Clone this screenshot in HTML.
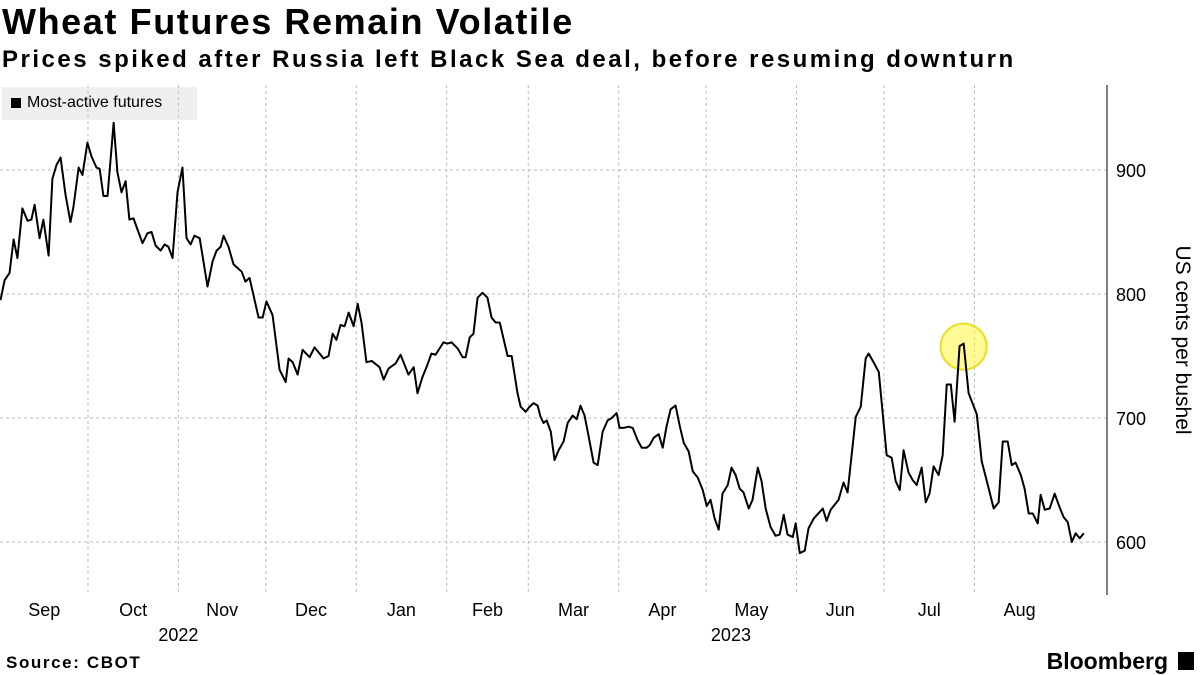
<!DOCTYPE html>
<html><head><meta charset="utf-8"><style>
body{margin:0;width:1200px;height:675px;background:#fff;font-family:"Liberation Sans",sans-serif;overflow:hidden;position:relative}
.t{position:absolute;left:2px;top:1px;font-weight:bold;font-size:36px;letter-spacing:1.6px;color:#000}
.s{position:absolute;left:2px;top:46px;font-weight:bold;font-size:24px;letter-spacing:2.5px;color:#000}
.src{position:absolute;left:6px;top:653px;font-weight:bold;font-size:17px;letter-spacing:1.6px}
.bb{position:absolute;right:32px;top:648px;font-weight:bold;font-size:23px}
.lg{position:absolute;left:2px;top:87px;width:195px;height:33px;background:#efefef;font-size:16px}
</style></head><body>
<div class="t">Wheat Futures Remain Volatile</div>
<div class="s">Prices spiked after Russia left Black Sea deal, before resuming downturn</div>
<div class="lg"><span style="position:absolute;left:9px;top:11px;width:10px;height:10px;background:#000"></span><span style="position:absolute;left:25px;top:7px">Most-active futures</span></div>
<svg id="c" width="1200" height="675" style="position:absolute;left:0;top:0"></svg>
<div class="src">Source: CBOT</div>
<div class="bb">Bloomberg</div>
<div style="position:absolute;left:1178px;top:652px;width:16px;height:18px;background:#000"></div>
<script>
const days=[0,1.4,3.1,4.5,5.8,7.5,9.3,10.6,11.7,13.4,14.7,16.5,17.8,19.2,20.6,22.3,24,25,26.8,28.1,29.8,31.2,32.9,34,35.3,36.7,38.8,40.1,41.5,42.9,44.2,45.6,47.3,48.7,50.4,51.8,53.2,54.9,56.3,57.6,59,60.7,62.4,63.8,65.2,66.5,68.3,71,72.7,74.1,75.5,76.5,78.2,79.9,82.7,84,85.4,88.5,89.9,91.2,93.3,95.7,97.8,98.8,100.2,101.9,103.6,106,107.7,110.8,112.5,113.9,115.2,116.6,118,119.4,121.1,122.5,123.8,125.5,127.3,130,131.4,133.1,135.5,137.2,139.9,141.7,143,144.7,146.1,147.8,149.2,151.9,153.3,154.7,156.8,158.5,159.5,160.9,162.2,163.6,165.3,167,168.4,169.8,171.2,173.9,175.3,177.3,178.4,180.1,181.4,182.8,184.2,185.2,186.2,187.3,188.7,190,191.4,193.1,194.5,196.2,197.6,198.9,200.3,201.7,203.4,204.8,206.5,208.2,209.6,211.3,212.3,213.7,215.4,216.8,218.5,219.9,221.6,222.6,224,225.7,227.1,228.4,229.8,231.5,232.9,234.3,236,237.4,239.1,240.8,242.2,243.5,244.9,246.3,247.6,249.4,250.7,252.1,253.5,254.8,256.6,257.9,259.7,261,262.4,264.1,265.8,267.2,268.6,269.9,271.7,272.7,274.1,275.8,277.1,278.9,282,283.3,284.7,287.4,289.1,290.5,293.3,295,296.7,297.7,299.4,301.2,303.9,305.6,307,308.4,309.7,311.4,312.8,314.2,315.9,317.3,318.6,320,321.7,323.1,324.5,325.9,327.2,328.9,330.3,332,334.8,336.5,338.9,340.6,342.3,343.7,345.4,346.8,348.1,349.9,351.2,352.6,354,355.7,356.7,358.1,359.8,361.5,363.2,364.6,366,367.4,368.7,370.1,371.5];
const prices=[795,811,817,844,829,869,859,860,872,845,860,831,893,904,910,880,858,870,902,896,922,911,902,901,879,879,938,898,882,891,860,861,850,841,849,850,839,835,840,838,829,882,902,845,840,847,845,806,826,835,838,847,838,824,818,810,813,781,781,794,783,739,729,748,745,735,755,749,757,748,750,768,763,775,774,785,774,792,777,745,746,741,731,740,744,751,735,741,720,733,741,752,751,761,760,761,756,749,749,765,768,797,801,797,781,777,777,750,750,720,709,705,709,712,710,701,696,698,689,666,674,681,696,702,699,710,702,685,664,662,689,698,700,704,692,692,693,692,682,676,676,678,684,687,676,693,707,710,694,680,673,657,652,642,629,634,619,610,639,646,660,654,643,640,627,634,660,649,627,612,605,606,622,606,604,615,591,593,611,619,627,617,626,634,648,640,701,709,748,752,745,737,670,668,649,642,674,656,650,646,660,632,639,661,654,670,727,727,697,758,760,720,703,665,643,627,632,681,681,662,664,654,643,623,623,615,638,626,627,639,628,620,616,600,607,603,607];
const yTicks=[600,700,800,900];
const monthLabels=["Sep","Oct","Nov","Dec","Jan","Feb","Mar","Apr","May","Jun","Jul","Aug"];
const monthStarts=[0,30,61,91,122,153,181,212,242,273,303,334,365];
const years=[["2022",61],["2023",250.5]];
const highlightDay=330.3, highlightPrice=760;
const NS="http://www.w3.org/2000/svg",svg=document.getElementById('c');
const X=d=>0.5+d*2.916, Y=v=>170+(900-v)*1.24;
function mk(t,a,p){const e=document.createElementNS(NS,t);for(const k in a)e.setAttribute(k,a[k]);(p||svg).appendChild(e);return e;}
yTicks.forEach(v=>{
 const l=mk('line',{x1:0,x2:1107,y1:Y(v),y2:Y(v),stroke:'#bbb','stroke-dasharray':'3,3'});
 
 
 const t=mk('text',{x:1116,y:Y(v)+7,'font-size':18,fill:'#000'});t.textContent=v;
 
 
});
monthStarts.slice(1,12).forEach(d=>{
 const l=mk('line',{x1:X(d),x2:X(d),y1:85,y2:595,stroke:'#bbb','stroke-dasharray':'3,3'});
 
 
});
monthLabels.forEach((m,i)=>{
 const t=mk('text',{x:X((monthStarts[i]+monthStarts[i+1])/2),y:616,'font-size':18,'text-anchor':'middle'});t.textContent=m;
 
 
});
years.forEach(([y,d])=>{
 const t=mk('text',{x:X(d),y:641,'font-size':18,'text-anchor':'middle'});t.textContent=y;
 
 
});
const ax=mk('line',{x1:1107,x2:1107,y1:85,y2:595,stroke:'#000','stroke-width':1});


const yt=mk('text',{x:0,y:0,'font-size':21,'text-anchor':'middle',transform:'translate(1176,340) rotate(90)'});yt.textContent='US cents per bushel';


const hc=mk('circle',{cx:X(highlightDay),cy:Y(highlightPrice)+3,r:23,fill:'rgba(255,245,60,0.55)',stroke:'#e8df2a','stroke-width':2});


const pl=mk('polyline',{points:days.map((d,i)=>X(d)+','+Y(prices[i])).join(' '),fill:'none',stroke:'#000','stroke-width':2,'stroke-linejoin':'round'});


</script>
</body></html>
